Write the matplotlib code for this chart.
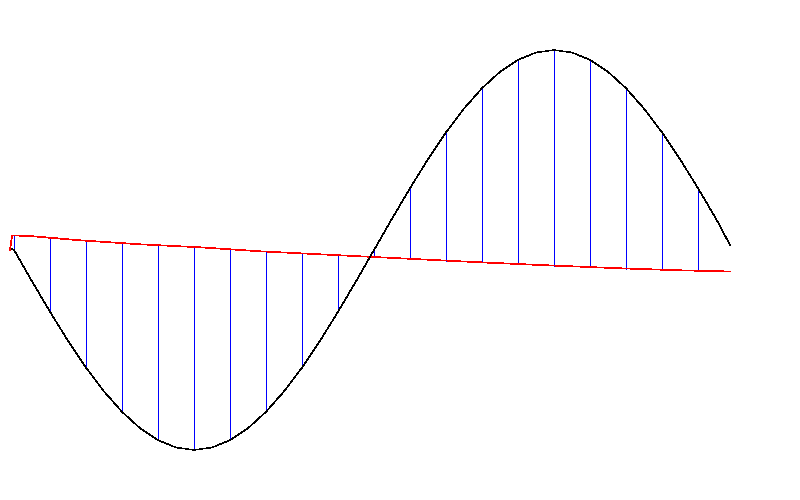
import matplotlib
matplotlib.use("Agg")
import matplotlib.pyplot as plt

# wave samples (x in px, value up-positive around the centre line)
curve_x = [12, 14, 32, 50, 68, 86, 104, 122, 140, 158, 176, 194, 212, 230, 248, 266,
           284, 302, 320, 338, 356, 374, 392, 410, 428, 446, 464, 482, 500, 518, 536,
           554, 572, 590, 608, 626, 644, 662, 680, 698, 716, 730]
curve_y = [1, 0, -31.3, -61.8, -90.8, -117.6, -141.4, -161.8, -178.2, -190.2, -197.5,
           -200, -197.5, -190.2, -178.2, -161.8, -141.4, -117.6, -90.8, -61.8, -31.3,
           0, 31.3, 61.8, 90.8, 117.6, 141.4, 161.8, 178.2, 190.2, 197.5, 200, 197.5,
           190.2, 178.2, 161.8, 141.4, 117.6, 90.8, 61.8, 31.3, 5]

# trend line
trend_x = [10, 12, 27, 80, 140, 200, 260, 300, 360, 480, 540, 620, 680, 730]
trend_y = [0, 14.5, 14.2, 9.7, 5.7, 2.7, -1.3, -3.3, -6.3, -12.3, -15, -18.3, -20.3, -21.5]

# residual sticks
stick_x = [14, 50, 86, 122, 158, 194, 230, 266, 302, 338, 374, 410, 446, 482, 518,
           554, 590, 626, 662, 698]
stick_top = [14.4, 11.8, 9.3, 6.9, 4.8, 3.0, 0.7, -1.6, -3.4, -5.2, -7.0, -8.8, -10.6,
             -12.4, -14.0, -15.6, -17.1, -18.5, -19.7, -20.8]
stick_bot = [0, -61.8, -117.6, -161.8, -190.2, -200, -190.2, -161.8, -117.6, -61.8,
             0, 61.8, 117.6, 161.8, 190.2, 200, 190.2, 161.8, 117.6, 61.8]

fig = plt.figure(figsize=(8, 5), dpi=100)
ax = fig.add_axes([0, 0, 1, 1])

ax.vlines(stick_x, stick_bot, stick_top, colors="#0000ff", linewidth=0.5, antialiased=False)
ax.plot(trend_x, trend_y, color="#ff0000", linewidth=0.5, antialiased=False)
ax.plot(curve_x, curve_y, color="black", linewidth=0.35, antialiased=False)

ax.set_xlim(0, 800)
ax.set_ylim(-250, 250)
ax.axis("off")

fig.savefig("out.png", dpi=100, facecolor="white")
